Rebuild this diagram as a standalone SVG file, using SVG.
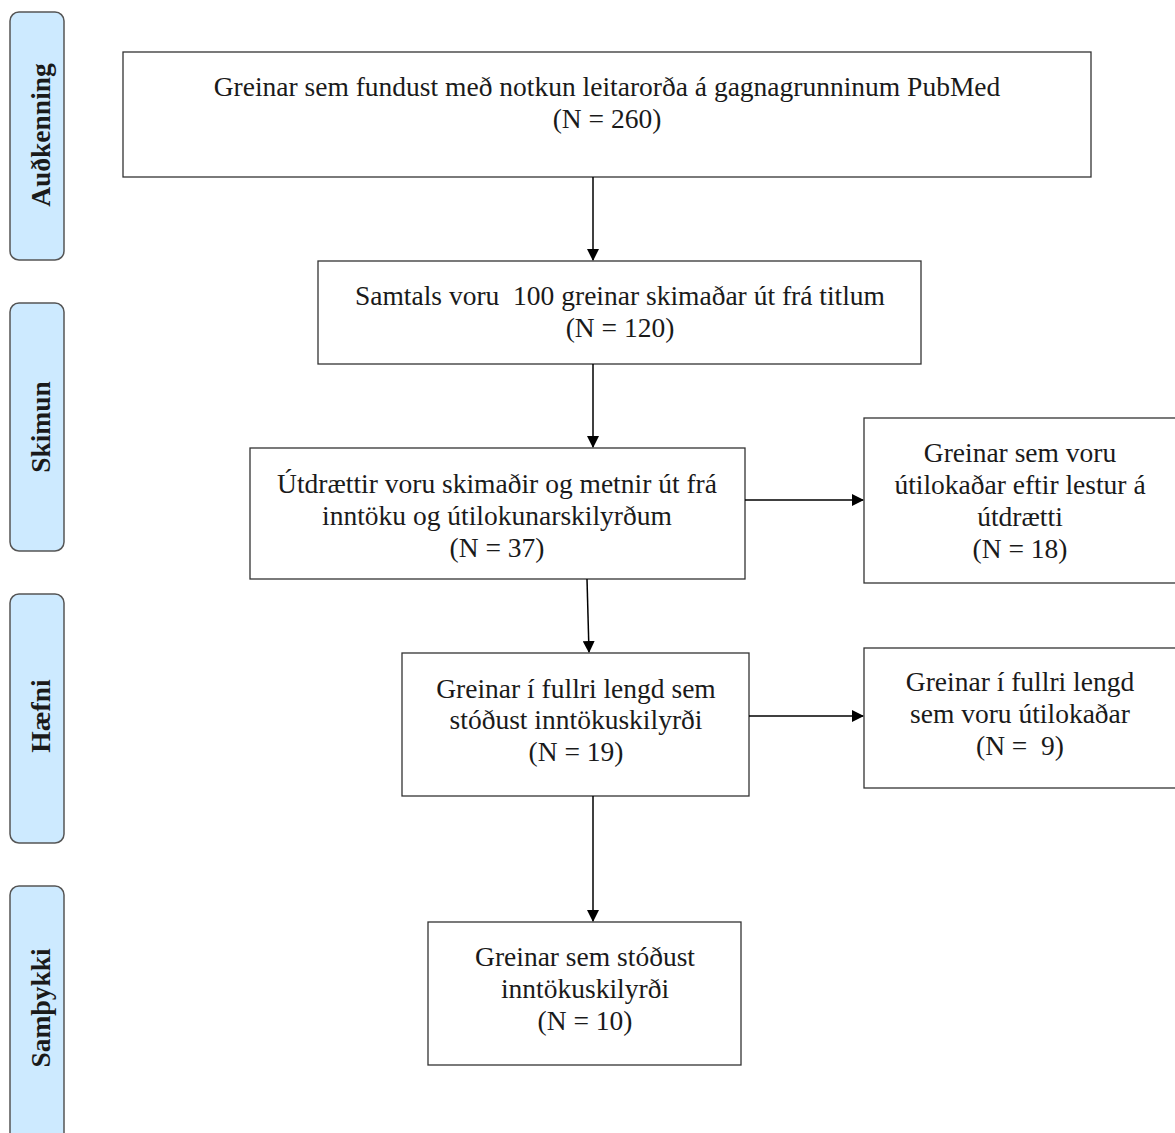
<svg xmlns="http://www.w3.org/2000/svg" width="1175" height="1133" viewBox="0 0 1175 1133">
<defs>
<marker id="ah" markerWidth="12" markerHeight="12" refX="11" refY="6" orient="auto" markerUnits="userSpaceOnUse"><path d="M0,0 L12,6 L0,12 Z" fill="#000"/></marker>
<style>
.box{fill:#fff;stroke:#333;stroke-width:1.3}
.side{fill:#cdeaff;stroke:#555;stroke-width:1.5}
.t{font-family:"Liberation Serif","Tinos","Noto Serif","DejaVu Serif",serif;font-size:27.5px;fill:#1a1a1a;text-anchor:middle}
.s{font-family:"Liberation Serif","Tinos","Noto Serif","DejaVu Serif",serif;font-size:27.5px;font-weight:bold;fill:#1a1a1a;text-anchor:middle}
.c{stroke:#000;stroke-width:1.5;fill:none}
</style>
</defs>
<rect width="1175" height="1133" fill="#fff"/>
<g id="side1"><rect class="side" x="10" y="12" width="54" height="248" rx="9"/><text class="s" transform="translate(50,135) rotate(-90)">Auðkenning</text></g>
<g id="side2"><rect class="side" x="10" y="303" width="54" height="248" rx="9"/><text class="s" transform="translate(50,427) rotate(-90)">Skimun</text></g>
<g id="side3"><rect class="side" x="10" y="594" width="54" height="249" rx="9"/><text class="s" transform="translate(50,716) rotate(-90)">Hæfni</text></g>
<g id="side4"><rect class="side" x="10" y="886" width="54" height="260" rx="9"/><text class="s" transform="translate(50,1008) rotate(-90)">Samþykki</text></g>
<g id="n1"><rect class="box" x="123" y="52" width="968" height="125"/><text class="t" x="607" y="96">Greinar sem fundust með notkun leitarorða á gagnagrunninum PubMed</text><text class="t" x="607" y="128">(N = 260)</text></g>
<g id="n2"><rect class="box" x="318" y="261" width="603" height="103"/><text class="t" x="620" y="305" xml:space="preserve">Samtals voru  100 greinar skimaðar út frá titlum</text><text class="t" x="620" y="337">(N = 120)</text></g>
<g id="n3"><rect class="box" x="250" y="448" width="495" height="131"/><text class="t" x="497" y="493">Útdrættir voru skimaðir og metnir út frá</text><text class="t" x="497" y="525">inntöku og útilokunarskilyrðum</text><text class="t" x="497" y="557">(N = 37)</text></g>
<g id="n4"><rect class="box" x="864" y="418" width="320" height="165"/><text class="t" x="1020" y="462">Greinar sem voru</text><text class="t" x="1020" y="494">útilokaðar eftir lestur á</text><text class="t" x="1020" y="526">útdrætti</text><text class="t" x="1020" y="558">(N = 18)</text></g>
<g id="n5"><rect class="box" x="402" y="653" width="347" height="143"/><text class="t" x="576" y="698">Greinar í fullri lengd sem</text><text class="t" x="576" y="729">stóðust inntökuskilyrði</text><text class="t" x="576" y="761">(N = 19)</text></g>
<g id="n6"><rect class="box" x="864" y="648" width="320" height="140"/><text class="t" x="1020" y="691">Greinar í fullri lengd</text><text class="t" x="1020" y="723">sem voru útilokaðar</text><text class="t" x="1020" y="755" xml:space="preserve">(N =  9)</text></g>
<g id="n7"><rect class="box" x="428" y="922" width="313" height="143"/><text class="t" x="585" y="966">Greinar sem stóðust</text><text class="t" x="585" y="998">inntökuskilyrði</text><text class="t" x="585" y="1030">(N = 10)</text></g>
<g id="connectors">
<line class="c" x1="593" y1="177" x2="593" y2="260" marker-end="url(#ah)"/>
<line class="c" x1="593" y1="364" x2="593" y2="447" marker-end="url(#ah)"/>
<line class="c" x1="587" y1="579" x2="589" y2="652" marker-end="url(#ah)"/>
<line class="c" x1="745" y1="500" x2="863" y2="500" marker-end="url(#ah)"/>
<line class="c" x1="749" y1="716" x2="863" y2="716" marker-end="url(#ah)"/>
<line class="c" x1="593" y1="796" x2="593" y2="921" marker-end="url(#ah)"/>
</g>
</svg>
